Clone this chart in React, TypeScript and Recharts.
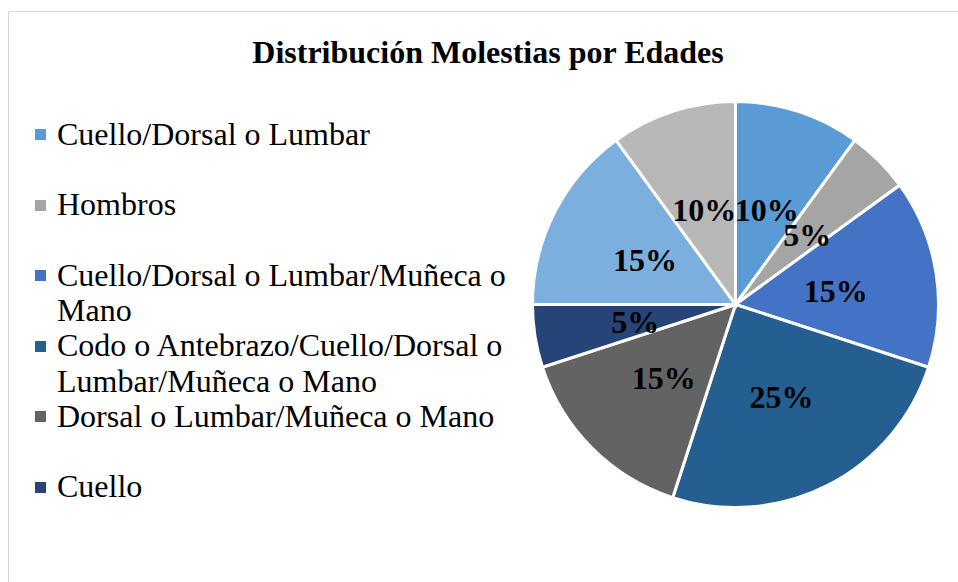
import React from "react";
import { PieChart, Pie, Cell } from "recharts";

const categories = [
  "Cuello/Dorsal o Lumbar",
  "Hombros",
  "Cuello/Dorsal o Lumbar/Muñeca o Mano",
  "Codo o Antebrazo/Cuello/Dorsal o Lumbar/Muñeca o Mano",
  "Dorsal o Lumbar/Muñeca o Mano",
  "Cuello",
  "Dorsal o Lumbar",
  "Hombros/Cuello",
];
const values = [10, 5, 15, 25, 15, 5, 15, 10];
const colors = ["#5B9BD5", "#A5A5A5", "#4472C4", "#255E91", "#636363", "#264478", "#7CAFDD", "#B7B7B7"];
const visibleLegendCount = 6;
const title = "Distribución Molestias por Edades";

const data = categories.map((name, i) => ({ name, value: values[i] }));

const FONT = "'Times New Roman', 'Liberation Serif', serif";
const RAD = Math.PI / 180;

const renderLabel = (props: any) => {
  const { cx, cy, midAngle, innerRadius, outerRadius, percent } = props;
  const r = (innerRadius + outerRadius) / 2;
  const x = cx + r * Math.cos(-midAngle * RAD);
  const y = cy + r * Math.sin(-midAngle * RAD) + 2;
  return (
    <text
      x={x}
      y={y}
      textAnchor="middle"
      dominantBaseline="central"
      fontFamily={FONT}
      fontWeight="bold"
      fontSize={32}
      fill="#000"
    >
      {`${Math.round(percent * 100)}%`}
    </text>
  );
};

const LegendBlock = () => (
  <div style={{ position: "absolute", left: 35, top: 116.5, width: 500 }}>
    {categories.slice(0, visibleLegendCount).map((name, i) => (
      <div key={name} style={{ position: "relative", height: 70.5 }}>
        <div
          style={{
            position: "absolute",
            left: 0,
            top: 12.5,
            width: 11,
            height: 11,
            background: colors[i],
          }}
        />
        <div
          style={{
            position: "absolute",
            left: 22,
            top: 0,
            width: 460,
            fontFamily: FONT,
            fontSize: 32,
            lineHeight: "35.5px",
            color: "#000",
          }}
        >
          {name}
        </div>
      </div>
    ))}
  </div>
);

export default function App() {
  return (
    <div style={{ position: "absolute", left: 0, top: 0, width: 958, height: 582, overflow: "hidden", background: "#fff" }}>
      <div
        style={{
          position: "absolute",
          left: 8,
          top: 11,
          width: 1000,
          height: 1000,
          border: "1.5px solid #D9D9D9",
          boxSizing: "border-box",
        }}
      />
      <div
        style={{
          position: "absolute",
          left: 0,
          top: 36,
          width: 976,
          textAlign: "center",
          fontFamily: FONT,
          fontWeight: "bold",
          fontSize: 32,
          lineHeight: "32px",
          color: "#000",
        }}
      >
        {title}
      </div>
      <LegendBlock />
      <div style={{ position: "absolute", left: 0, top: 0 }}>
        <PieChart width={958} height={582} margin={{ top: 0, right: 0, bottom: 0, left: 0 }}>
          <Pie
            data={data}
            dataKey="value"
            nameKey="name"
            cx={735.5}
            cy={304.5}
            outerRadius={203}
            startAngle={90}
            endAngle={-270}
            stroke="#FFFFFF"
            strokeWidth={3}
            label={renderLabel}
            labelLine={false}
            isAnimationActive={false}
          >
            {data.map((d, i) => (
              <Cell key={d.name} fill={colors[i]} />
            ))}
          </Pie>
        </PieChart>
      </div>
    </div>
  );
}
